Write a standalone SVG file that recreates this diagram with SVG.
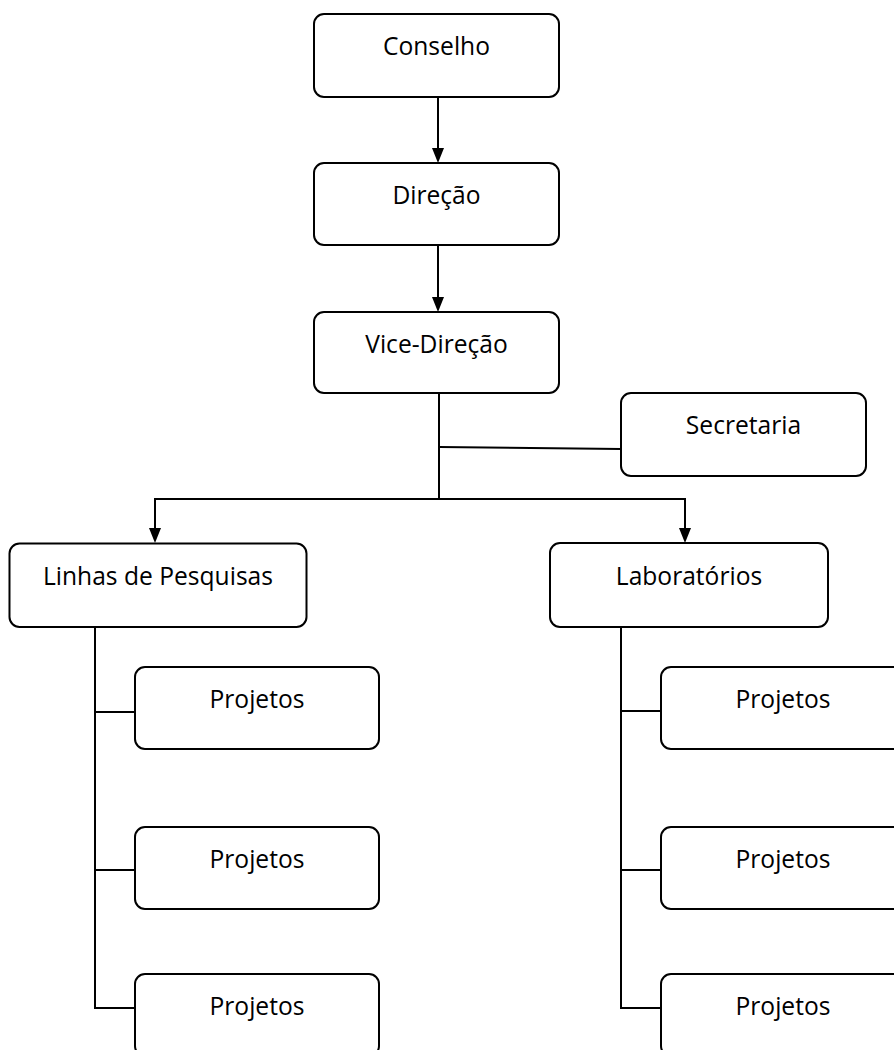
<svg xmlns="http://www.w3.org/2000/svg" width="894" height="1050" viewBox="0 0 894 1050">
<style>
.box{fill:#fff;stroke:#000;stroke-width:2}
.lbl{font-family:"Open Sans","Liberation Sans",sans-serif;font-size:24.6px;fill:#000;text-anchor:middle}
.ln{fill:none;stroke:#000;stroke-width:2}
.hd{fill:#000;stroke:none}
</style>
<rect width="894" height="1050" fill="#fff"/>
<g id="connectors">
<path class="ln" d="M438,97 V149"/>
<polygon class="hd" points="432,148 444,148 438,163"/>
<path class="ln" d="M438,245 V298"/>
<polygon class="hd" points="432,297 444,297 438,312"/>
<path class="ln" d="M439,393 V499 M155,499 H685 M155,498 V529 M685,498 V529"/>
<polygon class="hd" points="149,528 161,528 155,543"/>
<polygon class="hd" points="679,528 691,528 685,543"/>
<path class="ln" d="M439,447 L621,449"/>
<path class="ln" d="M95,627 V1008 H135 M95,712 H135 M95,870 H135"/>
<path class="ln" d="M621,627 V1008 H661 M621,711 H661 M621,870 H661"/>
</g>
<g id="conselho"><rect class="box" x="314" y="14" width="245" height="83" rx="10"/><text class="lbl" x="436.5" y="55">Conselho</text></g>
<g id="direcao"><rect class="box" x="314" y="163" width="245" height="82" rx="10"/><text class="lbl" x="436.5" y="204">Direção</text></g>
<g id="vice-direcao"><rect class="box" x="314" y="312" width="245" height="81" rx="10"/><text class="lbl" x="436.5" y="353">Vice-Direção</text></g>
<g id="secretaria"><rect class="box" x="621" y="393" width="245" height="83" rx="10"/><text class="lbl" x="743.5" y="434">Secretaria</text></g>
<g id="linhas"><rect class="box" x="9.5" y="543.5" width="297" height="83.5" rx="10"/><text class="lbl" x="158" y="585">Linhas de Pesquisas</text></g>
<g id="laboratorios"><rect class="box" x="550" y="543" width="278" height="84" rx="10"/><text class="lbl" x="689" y="585">Laboratórios</text></g>
<g id="projetos-l1"><rect class="box" x="135" y="667" width="244" height="82" rx="10"/><text class="lbl" x="257" y="708">Projetos</text></g>
<g id="projetos-l2"><rect class="box" x="135" y="827" width="244" height="82" rx="10"/><text class="lbl" x="257" y="868">Projetos</text></g>
<g id="projetos-l3"><rect class="box" x="135" y="974" width="244" height="82" rx="10"/><text class="lbl" x="257" y="1015">Projetos</text></g>
<g id="projetos-r1"><rect class="box" x="661" y="667" width="244" height="82" rx="10"/><text class="lbl" x="783" y="708">Projetos</text></g>
<g id="projetos-r2"><rect class="box" x="661" y="827" width="244" height="82" rx="10"/><text class="lbl" x="783" y="868">Projetos</text></g>
<g id="projetos-r3"><rect class="box" x="661" y="974" width="244" height="82" rx="10"/><text class="lbl" x="783" y="1015">Projetos</text></g>
</svg>
